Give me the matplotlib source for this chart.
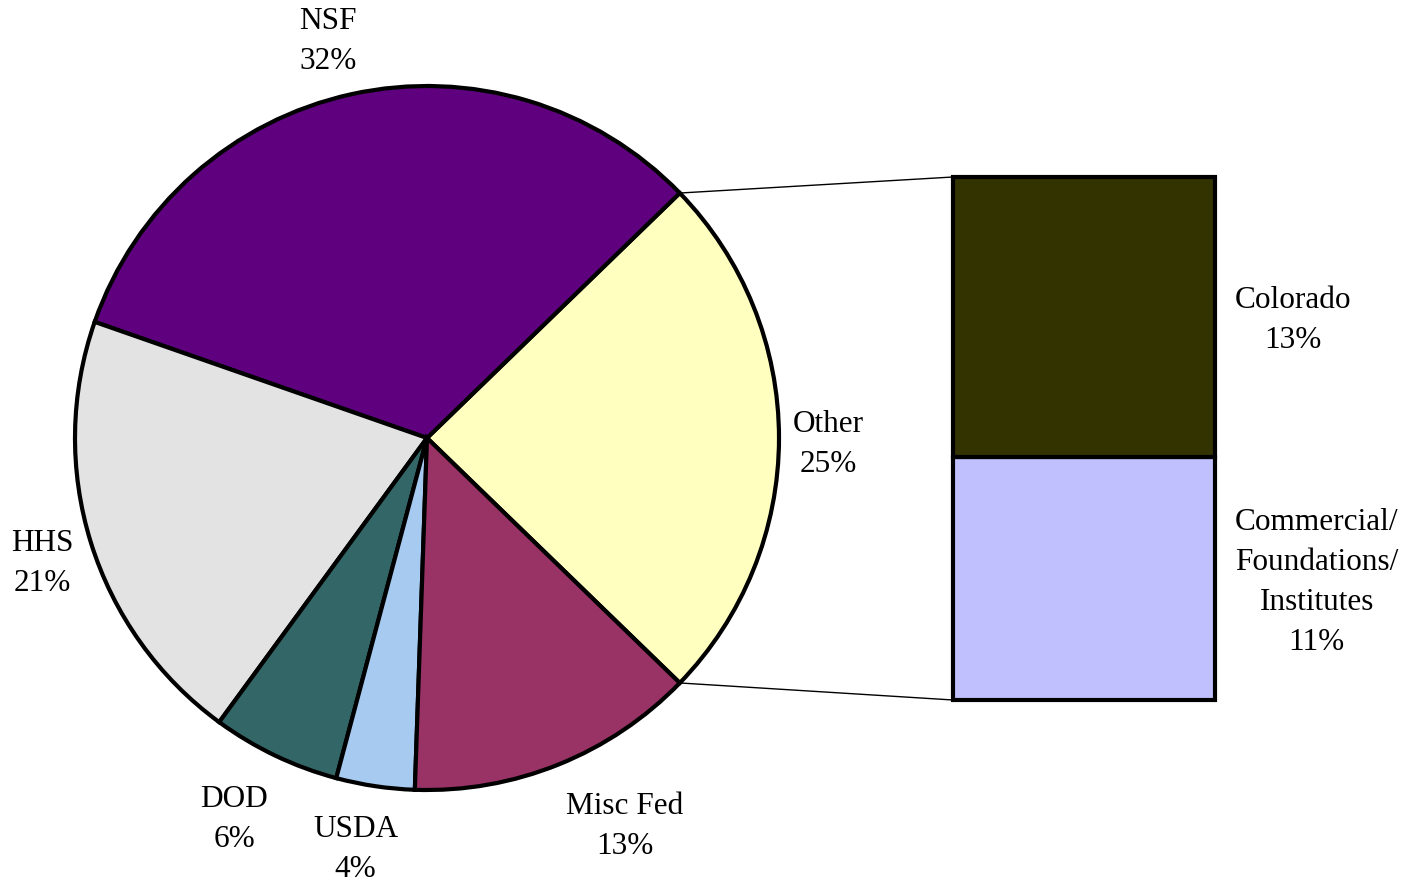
import numpy as np
import matplotlib
matplotlib.use("Agg")
import matplotlib.pyplot as plt
import matplotlib.transforms as mtransforms
from matplotlib.patches import ConnectionPatch

plt.rcParams['font.family'] = ['Liberation Serif', 'DejaVu Serif']

# Pie data (counter-clockwise starting with "Other")
pie_labels = ["Other", "NSF", "HHS", "DOD", "USDA", "Misc Fed"]
pie_values = [24.5, 32.4, 20.3, 5.9, 3.6, 13.3]
pie_pct = ["25%", "32%", "21%", "6%", "4%", "13%"]
pie_colors = ["#FFFFC0", "#5F007F", "#E3E3E3", "#336666", "#A6CAF0", "#993366"]
label_dist = [1.139, 1.171, 1.147, 1.203, 1.174, 1.229]
label_angle_shift = [-0.3, 1.5, 0.3, -1.5, -1.5, 5.2]

# Bar breakdown of "Other" (bottom to top)
bar_labels = ["Commercial/\nFoundations/\nInstitutes", "Colorado"]
bar_values = [11.4, 13.1]
bar_pct = ["11%", "13%"]
bar_colors = ["#C0C0FF", "#333300"]

W, H = 1410, 882
fig = plt.figure(figsize=(W / 100, H / 100), dpi=100)
ax = fig.add_axes([0, 0, 1, 1])

total = sum(pie_values)
other_angle = pie_values[0] / total * 360.0
start = -other_angle / 2.0
center = (427, 444)
radius = 352

wedges, _ = ax.pie(pie_values, colors=pie_colors, startangle=start,
                   counterclock=True, center=center, radius=radius,
                   wedgeprops=dict(edgecolor="black", linewidth=3))
ax.set_xlim(0, W)
ax.set_ylim(0, H)
ax.set_aspect("equal")
ax.set_axis_off()

fs = 22.5
ls = 1.5
text_shift = -4  # dots
tr_pie = mtransforms.offset_copy(ax.transData, fig=fig, y=text_shift, units='dots')
for w, lab, pct, d, sh in zip(wedges, pie_labels, pie_pct, label_dist, label_angle_shift):
    mid = np.deg2rad((w.theta1 + w.theta2) / 2.0 + sh)
    x = center[0] + radius * d * np.cos(mid)
    y = center[1] + radius * d * np.sin(mid)
    ax.text(x, y, f"{lab}\n{pct}", ha="center", va="center", fontsize=fs,
            multialignment="center", linespacing=ls, transform=tr_pie)

# Bar axes
bx0, bx1, by0, by1 = 953, 1215, 177, 700
axb = fig.add_axes([bx0 / W, (H - by1) / H, (bx1 - bx0) / W, (by1 - by0) / H])
trans = mtransforms.blended_transform_factory(axb.transAxes, axb.transData)
trans = mtransforms.offset_copy(trans, fig=fig, y=text_shift, units='dots')
bottom = 0
for v, c, lab, pct in zip(bar_values, bar_colors, bar_labels, bar_pct):
    axb.bar(0, v, bottom=bottom, width=1.0, color=c, edgecolor="black",
            linewidth=3, clip_on=False)
    axb.text(1.076, bottom + v / 2.0, f"{lab}\n{pct}", ha="left", va="center",
             fontsize=fs, multialignment="center", linespacing=ls,
             transform=trans)
    bottom += v
axb.set_xlim(-0.5, 0.5)
axb.set_ylim(0, sum(bar_values))
axb.set_axis_off()

# Connector lines
for ang, ycorner in [(wedges[0].theta2, 1.0), (wedges[0].theta1, 0.0)]:
    a = np.deg2rad(ang)
    p = (center[0] + radius * np.cos(a), center[1] + radius * np.sin(a))
    con = ConnectionPatch(xyA=p, coordsA=ax.transData,
                          xyB=(0.0, ycorner), coordsB=axb.transAxes,
                          color="black", linewidth=1.0, zorder=0)
    fig.add_artist(con)

fig.savefig("out.png", dpi=100)
